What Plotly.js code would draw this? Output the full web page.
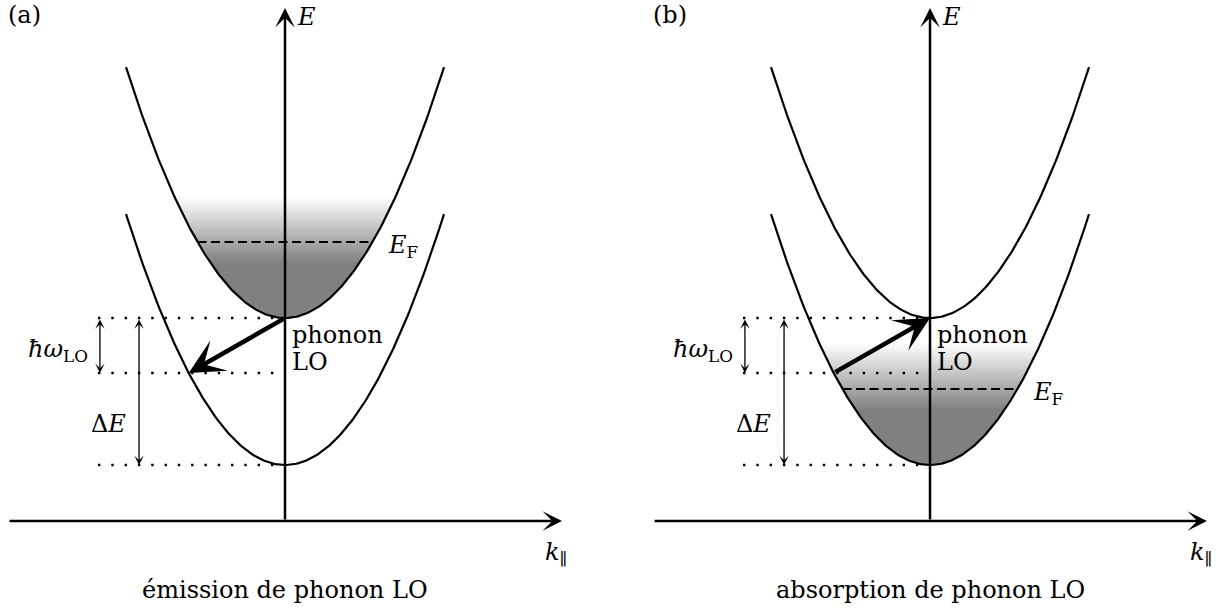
<!DOCTYPE html>
<html>
<head>
<meta charset="utf-8">
<script src="https://cdn.plot.ly/plotly-3.0.1.min.js"></script>
<style>html,body{margin:0;padding:0;background:#fff;}#chart{width:1225px;height:610px;}</style>
</head>
<body>
<div id="chart"></div>
<script>
// ---- Schematic values (energies in units of ΔE, wavevector in arbitrary units) ----
const panelLabels = ['(a)', '(b)'];
const captions = ['émission de phonon LO', 'absorption de phonon LO'];
const bandMinima = [0, 1];          // lower subband E1 = 0, upper subband E2 = ΔE = 1
const curvature = 1.707;            // E = Emin + curvature * k^2
const kBandEnd = 1.0;               // drawn extent of each parabola
const hbarOmegaLO = 0.374;          // LO phonon energy
const fermiLevels = [1.517, 0.517]; // (a) in upper band, (b) in lower band
const filledBand = [1, 0];          // which band is populated in each panel
const fillTop = [1.823, 0.830];     // top of the occupation shading
const fillFullGray = [1.374, 0.374];// level below which shading is solid gray
const kAxisHalf = 1.742;            // horizontal axis extent
const eAxis = [-0.381, 3.109];      // vertical axis extent
const kGuide = -1.176;              // start of dotted guide lines
const kHbarArrow = -1.164;
const kDeltaArrow = -0.918;

const xa = ['x', 'x2'];
const font = {family: 'DejaVu Serif', size: 24, color: '#000'};

function parab(E0, k0, k1, n) {
  const k = [], E = [];
  for (let i = 0; i <= n; i++) {
    const kk = k0 + (k1 - k0) * i / n;
    k.push(kk); E.push(E0 + curvature * kk * kk);
  }
  return {k, E};
}

const traces = [];
const annotations = [];

for (let p = 0; p < 2; p++) {
  const x = xa[p];
  // occupation shading
  const bi = filledBand[p];
  const kf = Math.sqrt((fillTop[p] - bandMinima[bi]) / curvature);
  const f = parab(bandMinima[bi], -kf, kf, 120);
  traces.push({
    x: f.k.concat([f.k[0]]), y: f.E.concat([f.E[0]]), xaxis: x, yaxis: 'y',
    mode: 'none', fill: 'toself', fillcolor: '#999',
    fillgradient: {type: 'vertical', colorscale: [[0, '#808080'], [1, '#ffffff']],
                   start: fillFullGray[p], stop: fillTop[p]},
    hoverinfo: 'skip', showlegend: false
  });
  // Fermi level dashed line
  const kF = Math.sqrt((fermiLevels[p] - bandMinima[bi]) / curvature);
  traces.push({
    x: [-kF, kF], y: [fermiLevels[p], fermiLevels[p]], xaxis: x, yaxis: 'y',
    mode: 'lines', line: {color: '#000', width: 2.2, dash: '9px,4.5px'},
    hoverinfo: 'skip', showlegend: false
  });
  // dotted guide lines
  const guideE = [bandMinima[1], bandMinima[1] - hbarOmegaLO, bandMinima[0]];
  guideE.forEach(e => traces.push({
    x: [kGuide, 0], y: [e, e], xaxis: x, yaxis: 'y', mode: 'lines',
    line: {color: '#000', width: 2.4, dash: '2.4px,10.9px'},
    hoverinfo: 'skip', showlegend: false
  }));
  // bands
  bandMinima.forEach(E0 => {
    const b = parab(E0, -kBandEnd, kBandEnd, 200);
    traces.push({x: b.k, y: b.E, xaxis: x, yaxis: 'y', mode: 'lines',
      line: {color: '#000', width: 2.2}, hoverinfo: 'skip', showlegend: false});
  });

  // axes arrows
  annotations.push({xref: x, yref: 'y', axref: x, ayref: 'y', x: 0, y: eAxis[1], ax: 0, ay: eAxis[0],
    showarrow: true, arrowhead: 3, arrowsize: 1.3, arrowwidth: 2.5, arrowcolor: '#000', text: '', standoff: 0, startstandoff: 0});
  annotations.push({xref: x, yref: 'y', axref: x, ayref: 'y', x: kAxisHalf, y: eAxis[0], ax: -kAxisHalf, ay: eAxis[0],
    showarrow: true, arrowhead: 3, arrowsize: 1.3, arrowwidth: 2.5, arrowcolor: '#000', text: '', standoff: 0, startstandoff: 0});
  // hbar omega double arrow
  annotations.push({xref: x, yref: 'y', axref: x, ayref: 'y', x: kHbarArrow, y: bandMinima[1] - hbarOmegaLO,
    ax: kHbarArrow, ay: bandMinima[1], showarrow: true, arrowhead: 3, startarrowhead: 3, arrowside: 'end+start',
    arrowsize: 1.2, startarrowsize: 1.2, arrowwidth: 1.3, arrowcolor: '#000', text: '', standoff: 0, startstandoff: 0});
  // Delta E double arrow
  annotations.push({xref: x, yref: 'y', axref: x, ayref: 'y', x: kDeltaArrow, y: bandMinima[0],
    ax: kDeltaArrow, ay: bandMinima[1], showarrow: true, arrowhead: 3, startarrowhead: 3, arrowside: 'end+start',
    arrowsize: 1.2, startarrowsize: 1.2, arrowwidth: 1.3, arrowcolor: '#000', text: '', standoff: 0, startstandoff: 0});
  // phonon transition arrow
  const kLow = -Math.sqrt((bandMinima[1] - hbarOmegaLO - bandMinima[0]) / curvature);
  const from = p === 0 ? [0, bandMinima[1]] : [kLow, bandMinima[1] - hbarOmegaLO];
  const to = p === 0 ? [kLow, bandMinima[1] - hbarOmegaLO] : [0, bandMinima[1]];
  annotations.push({xref: x, yref: 'y', axref: x, ayref: 'y', x: to[0], y: to[1], ax: from[0], ay: from[1],
    showarrow: true, arrowhead: 3, arrowsize: 1.3, arrowwidth: 4.5, arrowcolor: '#000', text: '', standoff: 0, startstandoff: 0});

  // text labels
  const T = (k, e, text, xanchor, yanchor) => annotations.push({xref: x, yref: 'y', x: k, y: e, text,
    showarrow: false, xanchor: xanchor || 'left', yanchor: yanchor || 'middle', font});
  T(-kAxisHalf - 0.01, 3.06, panelLabels[p]);
  T(0.06, 3.05, '<i>E</i>');
  T(1.62, -0.60, '<i>k</i><sub>∥</sub>');
  T(0.635, fermiLevels[p] - 0.03, '<i>E</i><sub>F</sub>');
  T(0.03, 0.885, 'phonon');
  T(0.03, 0.70, 'LO');
  T(-1.225, 0.78, '<i>ħω</i><sub>LO</sub>', 'right');
  T(-0.985, 0.28, 'Δ<i>E</i>', 'right');
  T(0, -0.85, captions[p], 'center');
}

const layout = {
  width: 1225, height: 610, margin: {l: 0, r: 0, t: 0, b: 0},
  paper_bgcolor: '#fff', plot_bgcolor: '#fff', showlegend: false,
  xaxis: {domain: [0, 0.5], range: [-1.7925, 2.0597], visible: false, fixedrange: true},
  xaxis2: {domain: [0.5, 1], range: [-1.9969, 1.8553], visible: false, anchor: 'y', fixedrange: true},
  yaxis: {domain: [0, 1], range: [-0.9864, 3.1633], visible: false, fixedrange: true},
  annotations
};
Plotly.newPlot('chart', traces, layout, {staticPlot: true});
</script>
</body>
</html>
